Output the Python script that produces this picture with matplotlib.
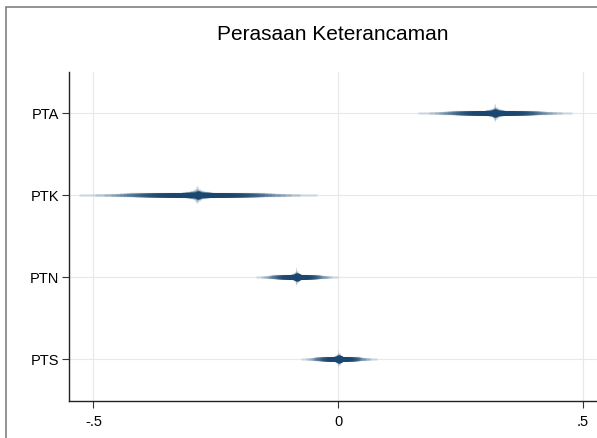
import numpy as np
import matplotlib
matplotlib.use("Agg")
import matplotlib.pyplot as plt
from matplotlib.patches import Rectangle
from statistics import NormalDist

plt.rcParams["font.family"] = ["Liberation Sans", "DejaVu Sans"]

# coefficient estimates with the outer (99%) confidence limits
labels = ["PTA", "PTK", "PTN", "PTS"]
est = [0.321, -0.287, -0.085, 0.001]
ci_lo = [0.163, -0.530, -0.169, -0.076]
ci_hi = [0.478, -0.044, -0.001, 0.079]

xticks = [-0.5, 0, 0.5]
xticklabels = ["-.5", "0", ".5"]

navy = "#1a476f"
grid_c = "#e8e8e8"

fig = plt.figure(figsize=(5.97, 4.38), dpi=100)
ax = fig.add_axes([69 / 597, 1 - 401 / 438, 1 - 69 / 597, (401 - 72) / 438])

# outer graph frame (cropped on the right and bottom)
fig.patches.append(Rectangle((5.5 / 597, -0.1), 1.2, 1 - 7.5 / 438 + 0.1,
                             transform=fig.transFigure, fill=False,
                             edgecolor="#808080", linewidth=1.2, zorder=0))

# smoothed confidence spikes: many levels, thinner/lighter as the level grows
levels = np.linspace(0.01, 0.99, 60)
z99 = NormalDist().inv_cdf(0.995)
pos = np.arange(1, len(labels) + 1)
lw_p = [0.0, 0.05, 0.1, 0.2, 0.3, 0.85, 0.95, 1.0]
lw_v = [20, 12, 8, 6.5, 5, 4.5, 3, 2.5]
for y, b, lo, hi in zip(pos, est, ci_lo, ci_hi):
    se = (hi - lo) / 2 / z99
    for p in levels[::-1]:
        z = NormalDist().inv_cdf(0.5 + p / 2)
        lw_px = np.interp(p, lw_p, lw_v)
        ax.plot([b - z * se, b + z * se], [y, y], color=navy, alpha=0.13,
                linewidth=lw_px * 0.72, solid_capstyle="butt", zorder=3)
    ax.plot(b, y, "o", color=navy, markersize=6, markeredgewidth=0, zorder=4)

ax.set_xlim(-0.5 - (93.5 - 69) / 489.7, 0.5 + (597 - 583) / 489.7)
ax.set_ylim(4.51, 0.5)
ax.set_yticks(pos)
ax.set_yticklabels(labels)
ax.set_xticks(xticks)
ax.set_xticklabels(xticklabels)
ax.tick_params(axis="both", labelsize=10.5, length=5, width=0.8, color="#333333")
ax.tick_params(axis="y", pad=2)
ax.tick_params(axis="x", pad=5)
ax.grid(True, color=grid_c, linewidth=0.8, zorder=0)
ax.set_axisbelow(True)
for s in ["top", "right"]:
    ax.spines[s].set_visible(False)
for s in ["left", "bottom"]:
    ax.spines[s].set_color("#222222")
    ax.spines[s].set_linewidth(1.0)

fig.text((69 + 597) / 2 / 597, 1 - 35 / 438, "Perasaan Keterancaman",
         ha="center", va="center", fontsize=15)

fig.savefig("out.png", dpi=100)
